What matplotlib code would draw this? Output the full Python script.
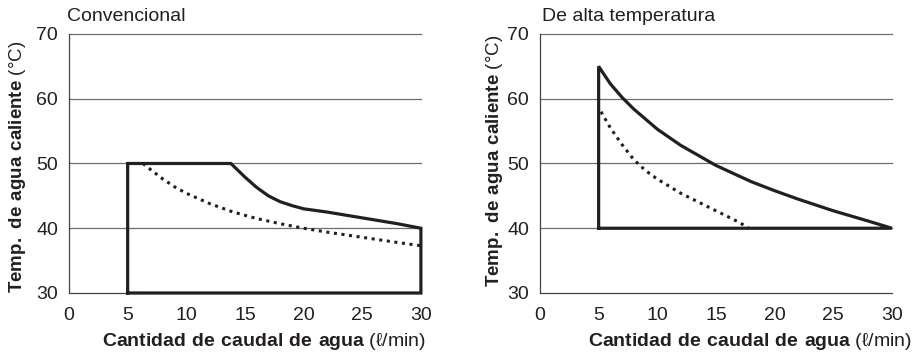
import matplotlib
matplotlib.use('Agg')
import matplotlib.pyplot as plt

plt.rcParams['font.family'] = ['Liberation Sans', 'DejaVu Sans']
plt.rcParams['mathtext.fontset'] = 'custom'
plt.rcParams['mathtext.bf'] = 'Liberation Sans:bold'
plt.rcParams['mathtext.rm'] = 'Liberation Sans'

# Conventional heater
conv_solid_x = [5, 5, 13.8, 15, 16, 17, 18, 19, 20, 22, 25, 28, 30, 30, 5]
conv_solid_y = [30, 50, 50, 47.9, 46.3, 45.0, 44.1, 43.5, 43.0, 42.5, 41.6, 40.7, 40, 30, 30]
conv_dot_x = [6.3, 7, 8, 9, 10, 12, 14, 16, 18, 20, 22, 25, 28, 30]
conv_dot_y = [50, 49, 47.6, 46.4, 45.4, 43.8, 42.5, 41.5, 40.7, 40.0, 39.4, 38.6, 37.8, 37.3]

# High temperature heater
high_solid_x = [5, 5, 6, 7, 8, 10, 12, 15, 18, 20, 22, 25, 28, 30, 5]
high_solid_y = [40, 65, 62.3, 60.2, 58.4, 55.3, 52.8, 49.7, 47.2, 45.8, 44.5, 42.7, 41.1, 40, 40]
high_dot_x = [5.2, 6, 7, 8, 9, 10, 12, 14, 16, 17, 17.8]
high_dot_y = [58, 55.5, 52.9, 50.6, 48.9, 47.6, 45.4, 43.6, 41.8, 40.9, 40]

x_ticks = [0, 5, 10, 15, 20, 25, 30]
y_ticks = [30, 40, 50, 60, 70]

titles = ['Convencional', 'De alta temperatura']
xlabel = r'$\mathbf{Cantidad\ de\ caudal\ de\ agua}$ (ℓ/min)'
ylabel = r'$\mathbf{Temp.\ de\ agua\ caliente}$ (°C)'

ink = '#231f20'
grid_c = '#6e6e6e'

fig = plt.figure(figsize=(9.14, 3.56), dpi=100)
panels = [
    # left, data, title x, xlabel right x, ylabel x, ylabel bottom y
    (0.0755, conv_solid_x, conv_solid_y, conv_dot_x, conv_dot_y, -0.006, 1.014, -0.145, 0.0),
    (0.5908, high_solid_x, high_solid_y, high_dot_x, high_dot_y, 0.006, 1.057, -0.128, 0.023),
]

for i, (left, sx, sy, dx, dy, tx, xlx, ylx, yly) in enumerate(panels):
    ax = fig.add_axes([left, 0.177, 0.385, 0.7275])
    ax.set_xlim(0, 30)
    ax.set_ylim(30, 70)
    for s in ['top', 'right', 'bottom']:
        ax.spines[s].set_visible(False)
    ax.spines['left'].set_color('#444444')
    ax.spines['left'].set_linewidth(0.9)
    for yv in y_ticks:
        ax.axhline(yv, color=grid_c if yv > 30 else '#444444', lw=0.9, zorder=1, clip_on=False)
    ax.plot(sx, sy, color=ink, lw=2.3, solid_joinstyle='miter', zorder=3, clip_on=False)
    ax.plot(dx, dy, color=ink, lw=2.2, linestyle=(0, (1, 1.5)), zorder=3, clip_on=False)
    ax.set_xticks(x_ticks)
    ax.set_yticks(y_ticks)
    ax.tick_params(length=0, labelsize=14, colors=ink)
    ax.tick_params(axis='x', pad=10)
    ax.tick_params(axis='y', pad=8)
    ax.text(tx, 1.066, titles[i], transform=ax.transAxes, fontsize=14, color=ink,
            ha='left', va='center')
    ax.text(xlx, -0.189, xlabel, transform=ax.transAxes, fontsize=14, color=ink,
            ha='right', va='center')
    ax.text(ylx, yly, ylabel, transform=ax.transAxes, fontsize=13.5, color=ink,
            ha='center', va='bottom', rotation=90)

fig.savefig('out.png', dpi=100)
